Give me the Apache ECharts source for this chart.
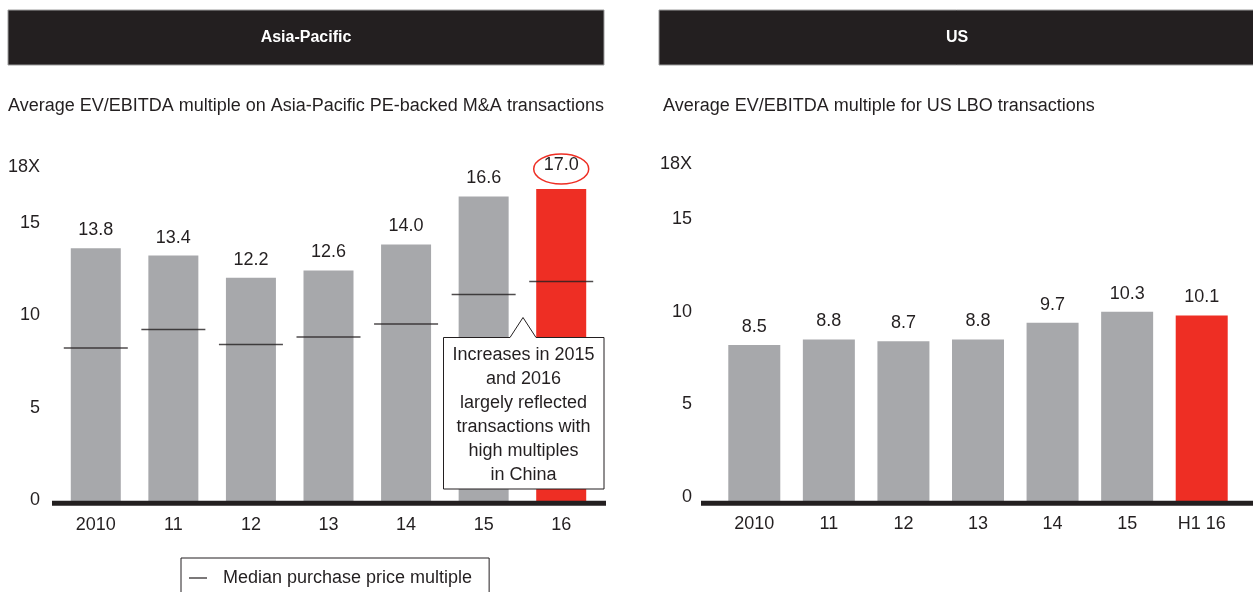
<!DOCTYPE html>
<html>
<head>
<meta charset="utf-8">
<script src="https://cdn.jsdelivr.net/npm/echarts@6/dist/echarts.min.js"></script>
<style>
  html, body { margin: 0; padding: 0; background: #fff; }
  #chart { width: 1253px; height: 592px; }
</style>
</head>
<body>
<div id="chart"></div>
<script>
// Data
const apYears = ['2010', '11', '12', '13', '14', '15', '16'];
const apAverage = [13.8, 13.4, 12.2, 12.6, 14.0, 16.6, 17.0];
const apMedian = [8.4, 9.4, 8.6, 9.0, 9.7, 11.3, 12.0];

const usYears = ['2010', '11', '12', '13', '14', '15', 'H1 16'];
const usAverage = [8.5, 8.8, 8.7, 8.8, 9.7, 10.3, 10.1];

const yTicks = [0, 5, 10, 15, 18];
const noteLines = ['Increases in 2015', 'and 2016', 'largely reflected', 'transactions with', 'high multiples', 'in China'];

// Style
const grey = '#a7a8ab';
const red = '#ee2e24';
const ink = '#231f20';
const font = "'Liberation Sans', Arial, sans-serif";

var chartDom = document.getElementById('chart');
var myChart = echarts.init(chartDom, null, { renderer: 'canvas' });

// last bar of each panel is highlighted in red
function barData(values) {
  return values.map((v, i) => ({
    value: v,
    itemStyle: { color: i === values.length - 1 ? red : grey },
  }));
}

// labels sit a few px above their tick, so align bottom with a short line box
function yAxisFor(gridIndex, margin, lift) {
  return {
    gridIndex: gridIndex,
    type: 'value',
    min: 0,
    max: 18,
    interval: 5,
    splitLine: { show: false },
    axisLine: { show: false },
    axisTick: { show: false },
    axisLabel: {
      customValues: yTicks,
      formatter: (v) => (v === 18 ? '18X' : String(v)),
      fontSize: 18,
      fontFamily: font,
      color: ink,
      margin: margin,
      verticalAlign: 'bottom',
      lineHeight: lift,
    },
  };
}

function xAxisFor(gridIndex, cats) {
  return {
    gridIndex: gridIndex,
    type: 'category',
    data: cats,
    axisLine: { show: false },
    axisTick: { show: false },
    axisLabel: { fontSize: 18, fontFamily: font, color: ink, margin: 13 },
  };
}

const apBars = barData(apAverage);
// the 2016 label sits a bit higher, inside the red ring
apBars[apBars.length - 1].label = { offset: [0, -6] };

var option = {
  animation: false,
  textStyle: { fontFamily: font },
  grid: [
    { left: 57, top: 170.5, width: 543, height: 333 },
    { left: 717, top: 169.3, width: 522, height: 333 },
  ],
  xAxis: [xAxisFor(0, apYears), xAxisFor(1, usYears)],
  yAxis: [yAxisFor(0, 17, 6), yAxisFor(1, 25, 11)],
  legend: {
    left: 181,
    top: 558,
    padding: [11, 17, 24, 8],
    borderColor: ink,
    borderWidth: 1,
    icon: 'rect',
    itemWidth: 18,
    itemHeight: 1.5,
    textStyle: { fontSize: 18, fontFamily: font, color: ink, padding: [0, 0, 0, 11] },
    data: ['Median purchase price multiple'],
  },
  series: [
    {
      name: 'Average',
      type: 'bar',
      xAxisIndex: 0,
      yAxisIndex: 0,
      barWidth: 50,
      data: apBars,
      label: {
        show: true,
        position: 'top',
        distance: 9,
        fontSize: 18,
        fontFamily: font,
        color: ink,
        formatter: (p) => p.value.toFixed(1),
      },
    },
    {
      name: 'Median purchase price multiple',
      type: 'scatter',
      xAxisIndex: 0,
      yAxisIndex: 0,
      symbol: 'rect',
      symbolSize: [64, 1.5],
      itemStyle: { color: ink },
      z: 4,
      data: apMedian,
    },
    {
      name: 'US average',
      type: 'bar',
      xAxisIndex: 1,
      yAxisIndex: 1,
      barWidth: 52,
      data: barData(usAverage),
      label: {
        show: true,
        position: 'top',
        distance: 9,
        fontSize: 18,
        fontFamily: font,
        color: ink,
        formatter: (p) => p.value.toFixed(1),
      },
    },
  ],
};

option && myChart.setOption(option);

// headers, subtitles, baselines, callout and ring
const ringCenter = myChart.convertToPixel({ gridIndex: 0 }, [apYears.length - 1, apAverage[apAverage.length - 1]]);

myChart.setOption({
  graphic: [
    { type: 'rect', shape: { x: 8, y: 10, width: 596, height: 55 }, style: { fill: ink, stroke: '#9d9d9d', lineWidth: 1 } },
    { type: 'text', x: 306, y: 38, style: { text: 'Asia-Pacific', fill: '#fff', font: 'bold 16px ' + font, textAlign: 'center', textVerticalAlign: 'middle' } },
    { type: 'rect', shape: { x: 659, y: 10, width: 600, height: 55 }, style: { fill: ink, stroke: '#9d9d9d', lineWidth: 1 } },
    { type: 'text', x: 957, y: 38, style: { text: 'US', fill: '#fff', font: 'bold 16px ' + font, textAlign: 'center', textVerticalAlign: 'middle' } },

    { type: 'text', x: 8, y: 106, style: { text: 'Average EV/EBITDA multiple on Asia-Pacific PE-backed M&A transactions', fill: ink, font: '18px ' + font, textVerticalAlign: 'middle' } },
    { type: 'text', x: 663, y: 106, style: { text: 'Average EV/EBITDA multiple for US LBO transactions', fill: ink, font: '18px ' + font, textVerticalAlign: 'middle' } },

    { type: 'line', z: 50, shape: { x1: 52, y1: 503.2, x2: 606, y2: 503.2 }, style: { stroke: ink, lineWidth: 5 } },
    { type: 'line', z: 50, shape: { x1: 701, y1: 503.2, x2: 1253, y2: 503.2 }, style: { stroke: ink, lineWidth: 5 } },

    {
      type: 'polygon', z: 60,
      shape: { points: [[443.5, 337.5], [510, 337.5], [523, 317.5], [536, 337.5], [604, 337.5], [604, 489], [443.5, 489]] },
      style: { fill: '#fff', stroke: ink, lineWidth: 1 },
    },
    { type: 'text', z: 61, x: 523.5, y: 415, style: { text: noteLines.join('\n'), fill: ink, font: '18px ' + font, lineHeight: 24, textAlign: 'center', textVerticalAlign: 'middle' } },

    { type: 'ellipse', z: 60, shape: { cx: ringCenter[0], cy: ringCenter[1] - 20, rx: 27.5, ry: 15 }, style: { fill: 'none', stroke: red, lineWidth: 1.5 } },
  ],
});
</script>
</body>
</html>
